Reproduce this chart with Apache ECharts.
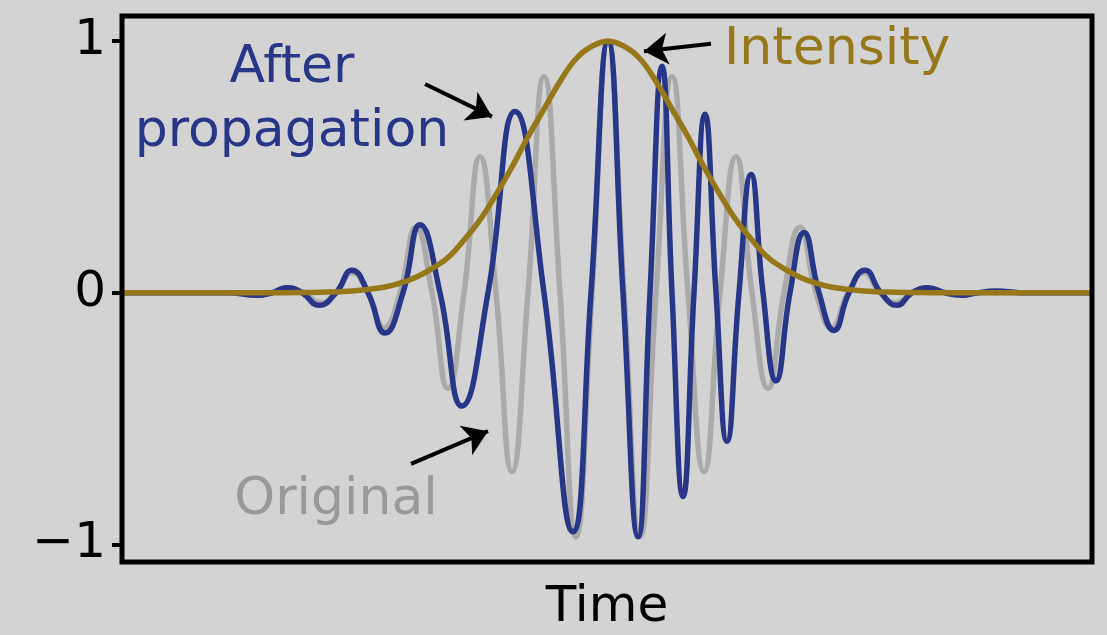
<!DOCTYPE html>
<html>
<head>
<meta charset="utf-8">
<script src="https://cdn.jsdelivr.net/npm/echarts@6/dist/echarts.min.js"></script>
<style>
  html, body { margin: 0; padding: 0; background: #d3d3d3; }
  #chart { width: 1107px; height: 635px; }
</style>
</head>
<body>
<div id="chart"></div>
<script>
// 时间轴以脉冲中心为 0
const originalT = [-486, -368, -352, -336, -320, -304, -288, -272, -256, -240, -224, -208, -192, -176, -160, -144, -128, -112, -96, -80, -64, -48, -32, -16, 0,
  16, 32, 48, 64, 80, 96, 112, 128, 144, 160, 176, 192, 208, 224, 240, 256, 272, 288, 304, 320, 336, 352, 368, 484]
const originalV = [0, 0, -0.01, 0, 0.02, 0, -0.04, 0, 0.08, 0, -0.14, 0, 0.26, 0, -0.38, 0, 0.54, 0, -0.71, 0, 0.86, 0, -0.97, 0, 1.0,
  0, -0.97, 0, 0.86, 0, -0.71, 0, 0.54, 0, -0.38, 0, 0.26, 0, -0.14, 0, 0.08, 0, -0.04, 0, 0.02, 0, -0.01, 0, 0]

const afterT = [-486, -380, -351, -336, -322, -306, -289, -272, -256, -240, -223, -205, -188, -168, -146, -120, -93, -64, -35, -17, 0,
  15, 30, 42, 54, 64, 75, 86, 97, 108, 119, 131, 143, 155, 168, 182, 196, 211, 226, 241, 257, 273, 289, 304, 320, 337, 354, 370, 387, 420, 484]
const afterV = [0, 0, -0.01, 0, 0.02, 0, -0.05, 0, 0.09, 0, -0.16, 0, 0.27, 0, -0.45, 0, 0.72, 0, -0.95, 0, 1.0,
  0, -0.97, 0, 0.90, 0, -0.81, 0, 0.71, 0, -0.59, 0, 0.47, 0, -0.35, 0, 0.24, 0, -0.15, 0, 0.09, 0, -0.05, 0, 0.02, 0, -0.01, 0, 0.007, 0, 0]

const intensityT = [-486, -352, -320, -288, -256, -224, -208, -192, -176, -160, -144, -128, -112, -96, -80, -64, -48, -32, -16, 0,
  16, 32, 48, 64, 80, 96, 112, 128, 144, 160, 176, 192, 208, 224, 256, 288, 320, 352, 484]
const intensityV = [0, 0, 0.0005, 0.002, 0.007, 0.022, 0.038, 0.062, 0.096, 0.14, 0.21, 0.29, 0.39, 0.50, 0.62, 0.73, 0.84, 0.93, 0.98, 1.0,
  0.98, 0.93, 0.84, 0.73, 0.62, 0.50, 0.39, 0.29, 0.21, 0.14, 0.096, 0.062, 0.038, 0.022, 0.007, 0.002, 0.0005, 0, 0]

const yTicks = [-1, 0, 1]

const zip = (a, b) => a.map((t, i) => [t, b[i]])

const chart = echarts.init(document.getElementById('chart'))
const font = 'DejaVu Sans'
const arrow = (from, to) => [{ coord: from, symbol: 'none' }, { coord: to, symbol: 'arrow' }]

chart.setOption({
  backgroundColor: '#d3d3d3',
  animation: false,
  grid: { left: 122, right: 15, top: 16, bottom: 73, outerBoundsMode: 'none', containLabel: false },
  xAxis: {
    type: 'value', min: -486, max: 484,
    name: 'Time', nameLocation: 'middle', nameGap: 46,
    nameTextStyle: { fontFamily: font, fontSize: 50, color: '#000', verticalAlign: 'middle', padding: 0 },
    axisLine: { show: false }, axisTick: { show: false }, axisLabel: { show: false }, splitLine: { show: false }
  },
  yAxis: {
    type: 'value', min: -1.07, max: 1.1,
    axisLine: { show: false, onZero: false },
    axisTick: { show: true, length: 10, lineStyle: { color: '#000', width: 4 }, customValues: yTicks },
    axisLabel: {
      customValues: yTicks, fontFamily: font, fontSize: 50, color: '#000', margin: 16,
      formatter: v => v < 0 ? '\u2212' + Math.abs(v) : String(v)
    },
    splitLine: { show: false }
  },
  graphic: [
    { type: 'rect', shape: { x: 122, y: 16, width: 970, height: 546 }, style: { fill: 'none', stroke: '#000', lineWidth: 5 }, z: 100 },
    { type: 'text', x: 292, y: 68, style: { text: 'After', font: '52px "DejaVu Sans"', fill: '#283688', textAlign: 'center', textVerticalAlign: 'middle' } },
    { type: 'text', x: 292, y: 132, style: { text: 'propagation', font: '52px "DejaVu Sans"', fill: '#283688', textAlign: 'center', textVerticalAlign: 'middle' } },
    { type: 'text', x: 336, y: 500, style: { text: 'Original', font: '52px "DejaVu Sans"', fill: '#999999', textAlign: 'center', textVerticalAlign: 'middle' } },
    { type: 'text', x: 724, y: 50, style: { text: 'Intensity', font: '52px "DejaVu Sans"', fill: '#96781a', textAlign: 'left', textVerticalAlign: 'middle' } }
  ],
  series: [
    {
      name: 'Original', type: 'line', data: zip(originalT, originalV), smooth: 0.5, symbol: 'none',
      lineStyle: { color: '#aaaaaa', width: 5.5 }
    },
    {
      name: 'After propagation', type: 'line', data: zip(afterT, afterV), smooth: 0.5, symbol: 'none',
      lineStyle: { color: '#283688', width: 5.5 }
    },
    {
      name: 'Intensity', type: 'line', data: zip(intensityT, intensityV), smooth: 0.4, symbol: 'none',
      lineStyle: { color: '#96781a', width: 5.5 },
      markLine: {
        silent: true, symbolSize: 24, label: { show: false },
        lineStyle: { color: '#000', width: 4, type: 'solid' },
        data: [
          arrow([-183, 0.83], [-116, 0.70]),
          arrow([-197, -0.68], [-120, -0.55]),
          arrow([103, 0.99], [36, 0.96])
        ]
      }
    }
  ]
})
</script>
</body>
</html>
